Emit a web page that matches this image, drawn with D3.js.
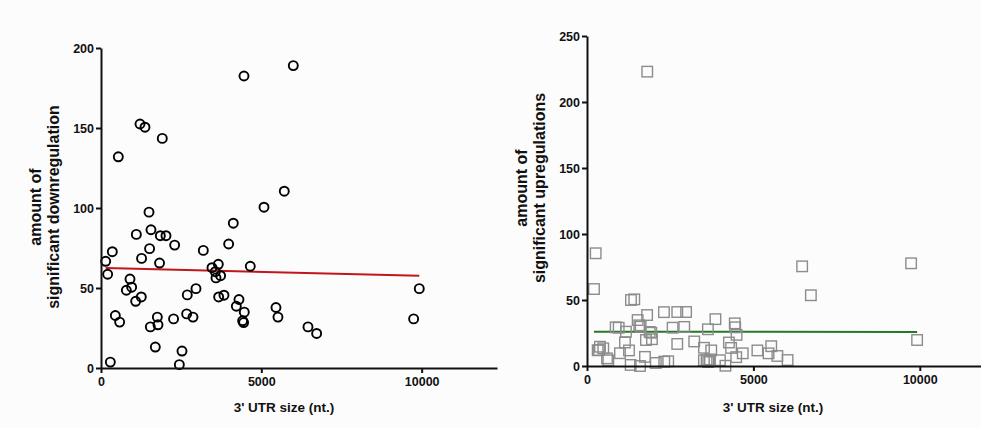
<!DOCTYPE html>
<html>
<head>
<meta charset="utf-8">
<script src="https://cdn.jsdelivr.net/npm/d3@7/dist/d3.min.js"></script>
<style>
  html, body { margin: 0; padding: 0; background: #fdfcfd; }
  svg { display: block; font-family: "Liberation Sans", Arial, sans-serif; }
  .tick text { font-size: 12.5px; font-weight: bold; fill: #111; }
  .axis path, .axis line { stroke: #111; stroke-width: 2px; }
  .xtitle { font-size: 13.5px; font-weight: bold; fill: #111; }
  .ytitle { font-size: 16px; font-weight: bold; fill: #111; }
</style>
</head>
<body>
<svg id="chart" width="981" height="428"></svg>
<script>
// 3' UTR length (nt.) vs. number of significant downregulations
const downUtr = [146, 208, 291, 353, 447, 540, 582, 790, 904, 956, 1081, 1102, 1216, 1257, 1265, 1372,
  1497, 1515, 1539, 1559, 1694, 1757, 1777, 1826, 1850, 1911, 2027, 2263, 2297, 2443, 2526, 2671,
  2691, 2869, 2962, 3191, 3461, 3565, 3586, 3659, 3669, 3730, 3835, 3981, 4126, 4220, 4303, 4417,
  4448, 4459, 4469, 4656, 5083, 5457, 5519, 5716, 5997, 6455, 6725, 9750, 9926];
const downCount = [66.7, 58.6, 3.7, 72.7, 32.8, 132, 28.7, 48.6, 55.6, 50.5, 41.7, 83.5, 152.5, 44.4, 68.5, 150.5,
  97.4, 74.6, 25.7, 86.4, 13.1, 31.8, 27, 65.6, 82.7, 143.5, 82.7, 30.7, 76.8, 2.1, 10.6, 33.8,
  45.7, 31.8, 49.6, 73.5, 62.7, 60.2, 56.3, 64.8, 44.4, 57.7, 45.5, 77.5, 90.5, 38.6, 42.8, 29.5,
  28.4, 182.5, 34.9, 63.6, 100.5, 37.8, 31.8, 110.5, 189, 25.7, 21.6, 30.7, 49.6];
// linear fit: [intercept, slope]
const downFit = [62.6, -0.0005];

// 3' UTR length (nt.) vs. number of significant upregulations
const upUtr = [210, 261, 321, 360, 390, 489, 601, 640, 862, 952, 991, 1141, 1171, 1262, 1312, 1321,
  1420, 1522, 1571, 1612, 1592, 1742, 1772, 1806, 1810, 1882, 1931, 1952, 2067, 2312, 2322, 2440,
  2573, 2712, 2712, 2922, 2978, 3222, 3513, 3515, 3594, 3633, 3643, 3694, 3733, 3859, 3994, 4160,
  4265, 4330, 4440, 4453, 4484, 4495, 4680, 5120, 5455, 5536, 5720, 6027, 6465, 6727, 9739, 9919];
const upCount = [58.3, 85.4, 11.9, 12.1, 14.6, 13.4, 5.8, 4.3, 29.3, 29, 9.7, 17.8, 26, 11.8, 0.8, 50,
  50.5, 34.8, 30.8, 29.8, 0, 6.9, 19.7, 38.6, 223, 25.8, 25.2, 20.3, 2.3, 40.8, 3.3, 3.6,
  29, 40.9, 16.7, 29.6, 40.9, 18.6, 4.3, 13.8, 4.5, 27.8, 3, 5, 11.8, 35.5, 4.4, 0.2,
  17.8, 13.7, 32.3, 29.3, 6.7, 23.6, 9.6, 11.8, 9.6, 15, 7.6, 4.5, 75.5, 53.6, 77.8, 19.7];
const upFit = [26.0, -0.00002];

const xTicks = [0, 5000, 10000];
const downTicks = [0, 50, 100, 150, 200];
const upTicks = [0, 50, 100, 150, 200, 250];
const xTitle = "3' UTR size (nt.)";

const svg = d3.select("#chart");

function panel(cfg) {
  const g = svg.append("g");
  const x = d3.scaleLinear().domain([0, 12350]).range(cfg.xr);
  const y = d3.scaleLinear().domain(cfg.yd).range(cfg.yr);

  // fit line across the observed 3' UTR range
  const ext = d3.extent(cfg.xs);
  g.append("line")
    .attr("x1", x(ext[0])).attr("y1", y(cfg.fit[0] + cfg.fit[1] * ext[0]))
    .attr("x2", x(ext[1])).attr("y2", y(cfg.fit[0] + cfg.fit[1] * ext[1]))
    .attr("stroke", cfg.lineColor).attr("stroke-width", 2);

  const pts = cfg.xs.map((v, i) => [v, cfg.ys[i]]);
  if (cfg.shape === "circle") {
    g.selectAll("circle.pt").data(pts).join("circle")
      .attr("class", "pt")
      .attr("cx", d => x(d[0])).attr("cy", d => y(d[1])).attr("r", 4.5)
      .attr("fill", "none").attr("stroke", "#000").attr("stroke-width", 1.9);
  } else {
    const s = 10.5;
    g.selectAll("rect.pt").data(pts).join("rect")
      .attr("class", "pt")
      .attr("x", d => x(d[0]) - s / 2).attr("y", d => y(d[1]) - s / 2)
      .attr("width", s).attr("height", s)
      .attr("fill", "none").attr("stroke", "#8c8c8c").attr("stroke-width", 1.4);
  }

  const y0 = cfg.yr[0];
  g.append("g").attr("class", "axis")
    .attr("transform", `translate(0,${y0})`)
    .call(d3.axisBottom(x).tickValues(xTicks).tickFormat(d3.format("d")).tickSize(5).tickSizeOuter(0))
    .call(a => a.selectAll(".tick text").attr("y", 9));

  g.append("g").attr("class", "axis")
    .attr("transform", `translate(${cfg.xr[0]},0)`)
    .call(d3.axisLeft(y).tickValues(cfg.yTicks).tickFormat(d3.format("d")).tickSize(5).tickSizeOuter(0))
    .call(a => a.selectAll(".tick text").attr("x", -7));

  g.append("text").attr("class", "xtitle")
    .attr("x", cfg.xTitleX).attr("y", 412).attr("text-anchor", "middle")
    .text(xTitle);

  cfg.yTitle.forEach((t, i) => {
    g.append("text").attr("class", "ytitle")
      .attr("transform", `translate(${cfg.yTitleX[i]},${cfg.yTitleY}) rotate(-90)`)
      .attr("text-anchor", "middle")
      .text(t);
  });
}

panel({
  xr: [101, 497], yd: [0, 200], yr: [368, 48],
  xs: downUtr, ys: downCount, fit: downFit, yTicks: downTicks,
  shape: "circle", lineColor: "#c0161c",
  xTitleX: 284, yTitle: ["amount of", "significant downregulation"],
  yTitleX: [41, 59], yTitleY: 207
});

panel({
  xr: [587, 998], yd: [0, 250], yr: [366, 36],
  xs: upUtr, ys: upCount, fit: upFit, yTicks: upTicks,
  shape: "square", lineColor: "#237a23",
  xTitleX: 773, yTitle: ["amount of", "significant upregulations"],
  yTitleX: [527, 545], yTitleY: 188
});
</script>
</body>
</html>
